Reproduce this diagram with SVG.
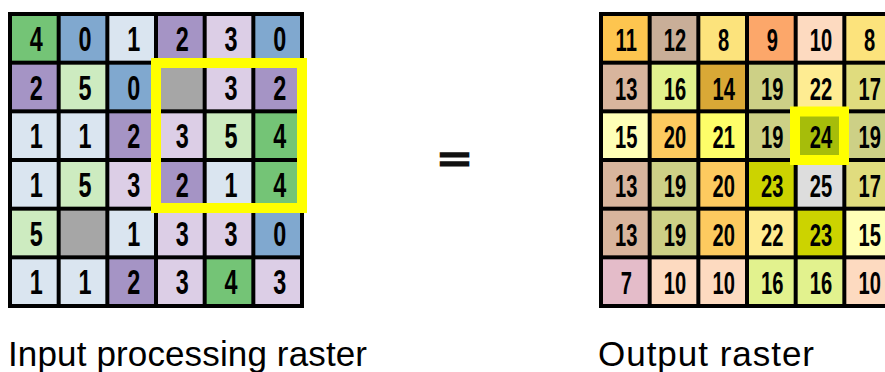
<svg xmlns="http://www.w3.org/2000/svg" width="885" height="372" viewBox="0 0 885 372">
<style>
.bg{fill:#000}
.v0{fill:#80a8cf}.v1{fill:#dae5f0}.v2{fill:#a594c5}.v3{fill:#dccee6}.v4{fill:#74c476}.v5{fill:#cdebc0}.nd{fill:#a6a6a6}
.o7{fill:#e4bcc9}.o8{fill:#fce37c}.o9{fill:#fca76a}.o10{fill:#fddac0}.o11{fill:#fdc54f}.o12{fill:#c9ae98}.o13{fill:#d8b59d}.o14{fill:#d9a836}.o15{fill:#ffffb7}.o16{fill:#e2f28e}.o17{fill:#e0dc7e}.o19{fill:#cdd086}.o20{fill:#fdca5f}.o21{fill:#fefe69}.o22{fill:#feec92}.o23{fill:#ccd300}.o24{fill:#a6bd0a}.o25{fill:#dddddd}
.hl{fill:none;stroke:#ffff00;stroke-width:10}
.num{font-family:"Liberation Sans",Arial,sans-serif;font-weight:bold;text-anchor:middle;fill:#000}
.nl{font-size:36px}.nr{font-size:31px}
.lbl{font-family:"Liberation Sans",Arial,sans-serif;font-size:35px;fill:#000}
</style>
<defs>
<rect id="c" width="44.67" height="44.67"/>
</defs>

<g id="input-raster">
<rect class="bg" x="8" y="12" width="296" height="296"/>
<g id="input-cells">
<use href="#c" class="v4" x="12" y="16"/><use href="#c" class="v0" x="60.67" y="16"/><use href="#c" class="v1" x="109.33" y="16"/><use href="#c" class="v2" x="158" y="16"/><use href="#c" class="v3" x="206.67" y="16"/><use href="#c" class="v0" x="255.33" y="16"/>
<use href="#c" class="v2" x="12" y="64.67"/><use href="#c" class="v5" x="60.67" y="64.67"/><use href="#c" class="v0" x="109.33" y="64.67"/><use href="#c" class="nd" x="158" y="64.67"/><use href="#c" class="v3" x="206.67" y="64.67"/><use href="#c" class="v2" x="255.33" y="64.67"/>
<use href="#c" class="v1" x="12" y="113.33"/><use href="#c" class="v1" x="60.67" y="113.33"/><use href="#c" class="v2" x="109.33" y="113.33"/><use href="#c" class="v3" x="158" y="113.33"/><use href="#c" class="v5" x="206.67" y="113.33"/><use href="#c" class="v4" x="255.33" y="113.33"/>
<use href="#c" class="v1" x="12" y="162"/><use href="#c" class="v5" x="60.67" y="162"/><use href="#c" class="v3" x="109.33" y="162"/><use href="#c" class="v2" x="158" y="162"/><use href="#c" class="v1" x="206.67" y="162"/><use href="#c" class="v4" x="255.33" y="162"/>
<use href="#c" class="v5" x="12" y="210.67"/><use href="#c" class="nd" x="60.67" y="210.67"/><use href="#c" class="v1" x="109.33" y="210.67"/><use href="#c" class="v3" x="158" y="210.67"/><use href="#c" class="v3" x="206.67" y="210.67"/><use href="#c" class="v0" x="255.33" y="210.67"/>
<use href="#c" class="v1" x="12" y="259.33"/><use href="#c" class="v1" x="60.67" y="259.33"/><use href="#c" class="v2" x="109.33" y="259.33"/><use href="#c" class="v3" x="158" y="259.33"/><use href="#c" class="v4" x="206.67" y="259.33"/><use href="#c" class="v3" x="255.33" y="259.33"/>
</g>
<g class="num nl" transform="scale(0.65,1)">
<text x="55.8" y="51">4</text><text x="130.8" y="51">0</text><text x="205.7" y="51">1</text><text x="280.5" y="51">2</text><text x="355.4" y="51">3</text><text x="430.3" y="51">0</text>
<text x="55.8" y="99.7">2</text><text x="130.8" y="99.7">5</text><text x="205.7" y="99.7">0</text><text x="355.4" y="99.7">3</text><text x="430.3" y="99.7">2</text>
<text x="55.8" y="148.3">1</text><text x="130.8" y="148.3">1</text><text x="205.7" y="148.3">2</text><text x="280.5" y="148.3">3</text><text x="355.4" y="148.3">5</text><text x="430.3" y="148.3">4</text>
<text x="55.8" y="197">1</text><text x="130.8" y="197">5</text><text x="205.7" y="197">3</text><text x="280.5" y="197">2</text><text x="355.4" y="197">1</text><text x="430.3" y="197">4</text>
<text x="55.8" y="245.7">5</text><text x="205.7" y="245.7">1</text><text x="280.5" y="245.7">3</text><text x="355.4" y="245.7">3</text><text x="430.3" y="245.7">0</text>
<text x="55.8" y="294.3">1</text><text x="130.8" y="294.3">1</text><text x="205.7" y="294.3">2</text><text x="280.5" y="294.3">3</text><text x="355.4" y="294.3">4</text><text x="430.3" y="294.3">3</text>
</g>
<rect id="input-neighborhood" class="hl" x="156" y="63" width="146" height="145"/>
</g>

<g id="equals">
<text x="454.5" y="0" transform="translate(0,170.5) scale(1,0.63)" style="font-family:'Liberation Sans',Arial,sans-serif;font-weight:bold;font-size:54px;text-anchor:middle;fill:#111;stroke:#111;stroke-width:2.5">=</text>
</g>

<g id="output-raster">
<rect class="bg" x="599" y="12" width="290" height="296"/>
<g id="output-cells">
<use href="#c" class="o11" x="603" y="16"/><use href="#c" class="o12" x="651.67" y="16"/><use href="#c" class="o8" x="700.33" y="16"/><use href="#c" class="o9" x="749" y="16"/><use href="#c" class="o10" x="797.67" y="16"/><use href="#c" class="o8" x="846.33" y="16"/>
<use href="#c" class="o13" x="603" y="64.67"/><use href="#c" class="o16" x="651.67" y="64.67"/><use href="#c" class="o14" x="700.33" y="64.67"/><use href="#c" class="o19" x="749" y="64.67"/><use href="#c" class="o22" x="797.67" y="64.67"/><use href="#c" class="o17" x="846.33" y="64.67"/>
<use href="#c" class="o15" x="603" y="113.33"/><use href="#c" class="o20" x="651.67" y="113.33"/><use href="#c" class="o21" x="700.33" y="113.33"/><use href="#c" class="o19" x="749" y="113.33"/><use href="#c" class="o24" x="797.67" y="113.33"/><use href="#c" class="o19" x="846.33" y="113.33"/>
<use href="#c" class="o13" x="603" y="162"/><use href="#c" class="o19" x="651.67" y="162"/><use href="#c" class="o20" x="700.33" y="162"/><use href="#c" class="o23" x="749" y="162"/><use href="#c" class="o25" x="797.67" y="162"/><use href="#c" class="o17" x="846.33" y="162"/>
<use href="#c" class="o13" x="603" y="210.67"/><use href="#c" class="o19" x="651.67" y="210.67"/><use href="#c" class="o20" x="700.33" y="210.67"/><use href="#c" class="o22" x="749" y="210.67"/><use href="#c" class="o23" x="797.67" y="210.67"/><use href="#c" class="o15" x="846.33" y="210.67"/>
<use href="#c" class="o7" x="603" y="259.33"/><use href="#c" class="o10" x="651.67" y="259.33"/><use href="#c" class="o10" x="700.33" y="259.33"/><use href="#c" class="o16" x="749" y="259.33"/><use href="#c" class="o16" x="797.67" y="259.33"/><use href="#c" class="o10" x="846.33" y="259.33"/>
</g>
<rect id="output-focal" class="hl" x="795" y="111.5" width="49" height="48.5"/>
<g class="num nr" transform="scale(0.65,1)">
<text x="963.5" y="51">11</text><text x="1038.5" y="51">12</text><text x="1113.4" y="51">8</text><text x="1188.2" y="51">9</text><text x="1263.1" y="51">10</text><text x="1338" y="51">8</text>
<text x="963.5" y="99.7">13</text><text x="1038.5" y="99.7">16</text><text x="1113.4" y="99.7">14</text><text x="1188.2" y="99.7">19</text><text x="1263.1" y="99.7">22</text><text x="1338" y="99.7">17</text>
<text x="963.5" y="148.3">15</text><text x="1038.5" y="148.3">20</text><text x="1113.4" y="148.3">21</text><text x="1188.2" y="148.3">19</text><text x="1263.1" y="148.3">24</text><text x="1338" y="148.3">19</text>
<text x="963.5" y="197">13</text><text x="1038.5" y="197">19</text><text x="1113.4" y="197">20</text><text x="1188.2" y="197">23</text><text x="1263.1" y="197">25</text><text x="1338" y="197">17</text>
<text x="963.5" y="245.7">13</text><text x="1038.5" y="245.7">19</text><text x="1113.4" y="245.7">20</text><text x="1188.2" y="245.7">22</text><text x="1263.1" y="245.7">23</text><text x="1338" y="245.7">15</text>
<text x="963.5" y="294.3">7</text><text x="1038.5" y="294.3">10</text><text x="1113.4" y="294.3">10</text><text x="1188.2" y="294.3">16</text><text x="1263.1" y="294.3">16</text><text x="1338" y="294.3">10</text>
</g>
</g>

<g id="labels">
<text class="lbl" x="8" y="366" textLength="359">Input processing raster</text>
<text class="lbl" x="598" y="366" textLength="216">Output raster</text>
</g>
</svg>
